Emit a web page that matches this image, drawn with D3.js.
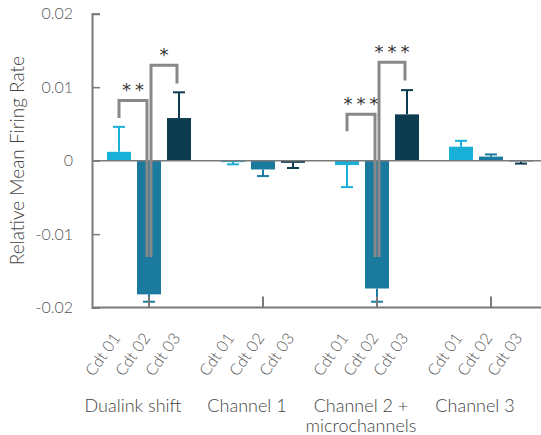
<!DOCTYPE html>
<html>
<head>
<meta charset="utf-8">
<script src="https://cdn.jsdelivr.net/npm/d3@7"></script>
<style>
  html, body { margin: 0; padding: 0; background: #fff; }
  svg { display: block; font-family: Lato, "Open Sans", sans-serif; font-weight: 300; }
</style>
</head>
<body>
<svg id="chart" width="541" height="435"></svg>
<script>
// Groups (recording setups) and conditions
const groups = ["Dualink shift", "Channel 1", "Channel 2 +\nmicrochannels", "Channel 3"];
const conditions = ["Cdt 01", "Cdt 02", "Cdt 03"];

// Mean relative firing rate per group, one array per condition
const cdt01 = [0.0012, -0.0002, -0.0006, 0.0019];
const cdt02 = [-0.0182, -0.0012, -0.0174, 0.00055];
const cdt03 = [0.0058, -0.0003, 0.0063, -0.0001];

// Error bar extent (one-sided, away from zero)
const err01 = [0.0034, 0.0003, 0.0030, 0.0008];
const err02 = [0.0010, 0.0009, 0.0018, 0.0003];
const err03 = [0.0035, 0.0007, 0.0033, 0.0003];

const yTicks = [0.02, 0.01, 0, -0.01, -0.02];
const yTickLabels = ["0.02", "0.01", "0", "-0.01", "-0.02"];

// Significance brackets: group, condition pair, label, bracket top, left leg end, right leg end
const sigGroup = [0, 0, 2, 2];
const sigFrom = [0, 1, 0, 1];
const sigTo = [1, 2, 1, 2];
const sigLabel = ["**", "*", "***", "***"];
const sigTop = [0.0082, 0.0130, 0.0063, 0.0134];
const sigLeftEnd = [0.0058, -0.0131, 0.0040, -0.0131];
const sigRightEnd = [-0.0131, 0.0105, -0.0131, 0.0109];

const colors = ["#19b0d8", "#1b7b9e", "#0d3c51"];
const values = [cdt01, cdt02, cdt03];
const errors = [err01, err02, err03];

const svg = d3.select("#chart");
const margin = { left: 92, top: 13.7, bottom: 307.6 };

const y = d3.scaleLinear().domain([-0.02, 0.02]).range([margin.bottom, margin.top]);
const x = d3.scaleBand().domain(d3.range(groups.length)).range([margin.left, 548]).padding(0);
const xi = d3.scalePoint().domain(d3.range(conditions.length)).range([-30, 30]);
const barW = 24;
const cx = (g, c) => x(g) + x.bandwidth() / 2 + xi(c);

const axisColor = "#7a7a7a";

// Bars
conditions.forEach((cName, c) => {
  const gSel = svg.append("g");
  gSel.selectAll("rect")
    .data(values[c])
    .join("rect")
    .attr("x", (d, g) => cx(g, c) - barW / 2)
    .attr("width", barW)
    .attr("y", d => Math.min(y(d), y(0)))
    .attr("height", d => Math.abs(y(d) - y(0)))
    .attr("fill", colors[c]);

  // error bars
  const eb = svg.append("g").attr("stroke", colors[c]).attr("stroke-width", 2);
  values[c].forEach((v, g) => {
    const end = v >= 0 ? v + errors[c][g] : v - errors[c][g];
    eb.append("line").attr("x1", cx(g, c)).attr("x2", cx(g, c)).attr("y1", y(v)).attr("y2", y(end));
    eb.append("line").attr("x1", cx(g, c) - 6).attr("x2", cx(g, c) + 6).attr("y1", y(end)).attr("y2", y(end));
  });
});

// Zero line and bottom axis
svg.append("line").attr("x1", margin.left).attr("x2", 541).attr("y1", y(0)).attr("y2", y(0))
  .attr("stroke", axisColor).attr("stroke-width", 1.5);
svg.append("line").attr("x1", margin.left).attr("x2", 541).attr("y1", y(-0.02)).attr("y2", y(-0.02))
  .attr("stroke", axisColor).attr("stroke-width", 2);

// Y axis
const yAxis = d3.axisRight(y).tickValues(yTicks).tickSize(8).tickFormat("");
const ya = svg.append("g").attr("transform", `translate(${margin.left},0)`).call(yAxis);
ya.select(".domain").attr("stroke", axisColor).attr("stroke-width", 2);
ya.selectAll(".tick line").attr("stroke", axisColor).attr("stroke-width", 1.5);
svg.append("g").selectAll("text").data(yTicks).join("text")
  .attr("x", 73).attr("y", d => y(d)).attr("dy", "0.36em")
  .attr("text-anchor", "end").attr("font-size", 16).attr("fill", "#555")
  .text((d, i) => yTickLabels[i]);

svg.append("text")
  .attr("transform", `translate(24,${(y(0.02) + y(-0.02)) / 2}) rotate(-90)`)
  .attr("text-anchor", "middle").attr("font-size", 19).attr("fill", "#444")
  .text("Relative Mean Firing Rate");

// X group ticks
svg.append("g").selectAll("line").data(d3.range(groups.length)).join("line")
  .attr("x1", g => x(g) + x.bandwidth() / 2).attr("x2", g => x(g) + x.bandwidth() / 2)
  .attr("y1", y(-0.02)).attr("y2", y(-0.02) - 11)
  .attr("stroke", axisColor).attr("stroke-width", 2);

// Condition labels (rotated)
const condLabels = svg.append("g");
groups.forEach((gName, g) => {
  conditions.forEach((cName, c) => {
    condLabels.append("text")
      .attr("transform", `translate(${cx(g, c) + 2},338) rotate(-55)`)
      .attr("text-anchor", "end").attr("font-size", 16).attr("fill", "#555")
      .text(cName);
  });
});

// Group labels
groups.forEach((gName, g) => {
  const lines = gName.split("\n");
  const gx = x(g) + x.bandwidth() / 2 - 16;
  const t = svg.append("text")
    .attr("x", gx).attr("y", 412)
    .attr("text-anchor", "middle").attr("font-size", 18).attr("fill", "#444");
  lines.forEach((ln, i) => {
    t.append("tspan").attr("x", gx).attr("dy", i === 0 ? 0 : 20).text(ln);
  });
});

// Significance brackets
const br = svg.append("g");
sigGroup.forEach((g, i) => {
  const a = sigFrom[i], b = sigTo[i];
  const xl = cx(g, a) + (a === 1 ? 2 : 0);
  const xr = cx(g, b) - 2;
  br.append("path")
    .attr("d", `M${xl},${y(sigLeftEnd[i])} V${y(sigTop[i])} H${xr} V${y(sigRightEnd[i])}`)
    .attr("fill", "none").attr("stroke", "#888").attr("stroke-width", 3);
  br.append("text")
    .attr("x", (xl + xr) / 2 + 2).attr("y", y(sigTop[i]) - 4)
    .attr("text-anchor", "middle").attr("font-size", 18).attr("fill", "#333")
    .attr("letter-spacing", 4)
    .style("font-family", "'DejaVu Sans', sans-serif")
    .style("font-weight", 400)
    .text(sigLabel[i]);
});
</script>
</body>
</html>
